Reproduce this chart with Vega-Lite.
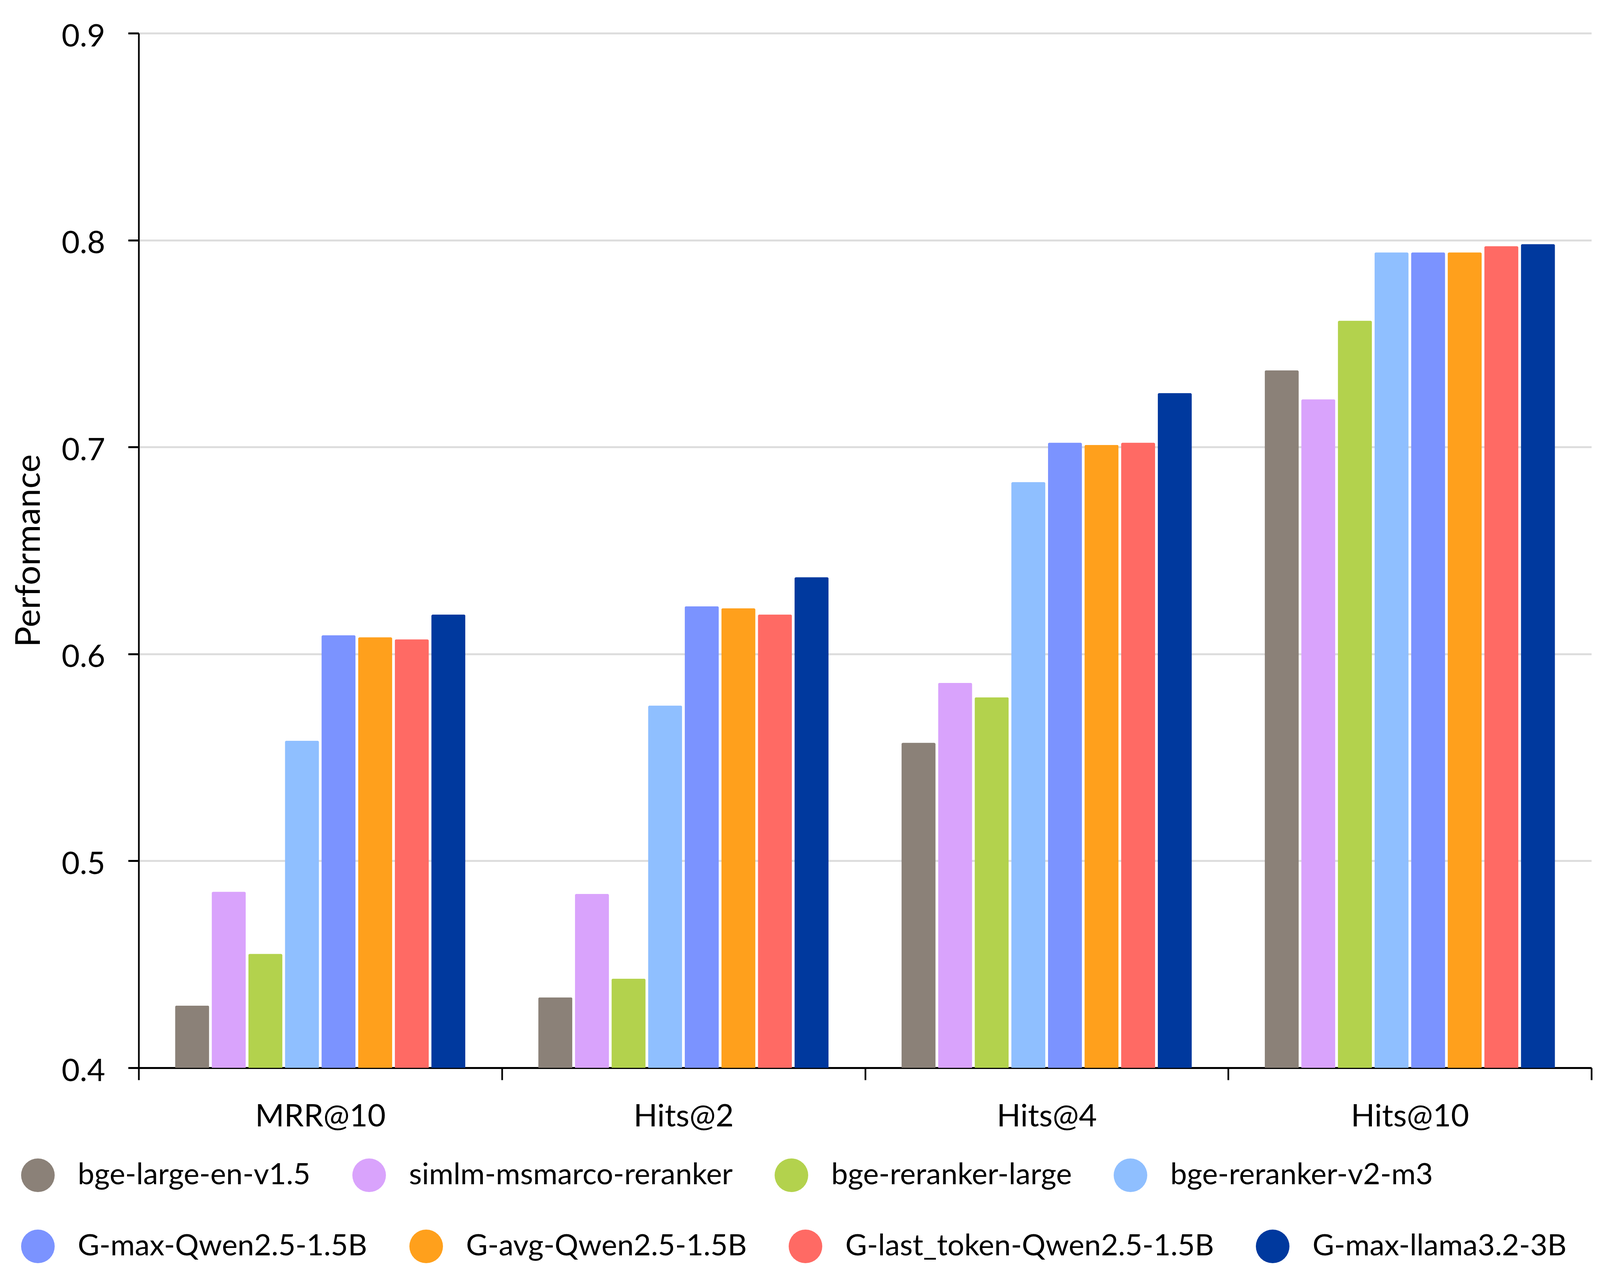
{
  "$schema": "https://vega.github.io/schema/vega-lite/v6.json",
  "autosize": {"type": "none"},
  "width": 3719,
  "height": 2648,
  "padding": {"left": 355, "top": 85, "right": 29, "bottom": 561},
  "background": "white",
  "config": {
    "font": "Lato",
    "view": {"stroke": null},
    "axis": {"labelColor": "black", "titleColor": "black", "labelFont": "Lato", "titleFont": "Lato"},
    "legend": {"labelFont": "Lato"}
  },
  "data": {
    "values": [
      {"metric": "MRR@10", "model": "bge-large-en-v1.5", "value": 0.430},
      {"metric": "MRR@10", "model": "simlm-msmarco-reranker", "value": 0.485},
      {"metric": "MRR@10", "model": "bge-reranker-large", "value": 0.455},
      {"metric": "MRR@10", "model": "bge-reranker-v2-m3", "value": 0.558},
      {"metric": "MRR@10", "model": "G-max-Qwen2.5-1.5B", "value": 0.609},
      {"metric": "MRR@10", "model": "G-avg-Qwen2.5-1.5B", "value": 0.608},
      {"metric": "MRR@10", "model": "G-last_token-Qwen2.5-1.5B", "value": 0.607},
      {"metric": "MRR@10", "model": "G-max-llama3.2-3B", "value": 0.619},
      {"metric": "Hits@2", "model": "bge-large-en-v1.5", "value": 0.434},
      {"metric": "Hits@2", "model": "simlm-msmarco-reranker", "value": 0.484},
      {"metric": "Hits@2", "model": "bge-reranker-large", "value": 0.443},
      {"metric": "Hits@2", "model": "bge-reranker-v2-m3", "value": 0.575},
      {"metric": "Hits@2", "model": "G-max-Qwen2.5-1.5B", "value": 0.623},
      {"metric": "Hits@2", "model": "G-avg-Qwen2.5-1.5B", "value": 0.622},
      {"metric": "Hits@2", "model": "G-last_token-Qwen2.5-1.5B", "value": 0.619},
      {"metric": "Hits@2", "model": "G-max-llama3.2-3B", "value": 0.637},
      {"metric": "Hits@4", "model": "bge-large-en-v1.5", "value": 0.557},
      {"metric": "Hits@4", "model": "simlm-msmarco-reranker", "value": 0.586},
      {"metric": "Hits@4", "model": "bge-reranker-large", "value": 0.579},
      {"metric": "Hits@4", "model": "bge-reranker-v2-m3", "value": 0.683},
      {"metric": "Hits@4", "model": "G-max-Qwen2.5-1.5B", "value": 0.702},
      {"metric": "Hits@4", "model": "G-avg-Qwen2.5-1.5B", "value": 0.701},
      {"metric": "Hits@4", "model": "G-last_token-Qwen2.5-1.5B", "value": 0.702},
      {"metric": "Hits@4", "model": "G-max-llama3.2-3B", "value": 0.726},
      {"metric": "Hits@10", "model": "bge-large-en-v1.5", "value": 0.737},
      {"metric": "Hits@10", "model": "simlm-msmarco-reranker", "value": 0.723},
      {"metric": "Hits@10", "model": "bge-reranker-large", "value": 0.761},
      {"metric": "Hits@10", "model": "bge-reranker-v2-m3", "value": 0.794},
      {"metric": "Hits@10", "model": "G-max-Qwen2.5-1.5B", "value": 0.794},
      {"metric": "Hits@10", "model": "G-avg-Qwen2.5-1.5B", "value": 0.794},
      {"metric": "Hits@10", "model": "G-last_token-Qwen2.5-1.5B", "value": 0.797},
      {"metric": "Hits@10", "model": "G-max-llama3.2-3B", "value": 0.798}
    ]
  },
  "encoding": {
    "x": {
      "field": "metric",
      "type": "nominal",
      "sort": ["MRR@10", "Hits@2", "Hits@4", "Hits@10"],
      "scale": {"paddingInner": 0, "paddingOuter": 0},
      "axis": {
        "title": null,
        "labelAngle": 0,
        "labelFontSize": 80,
        "labelPadding": 55,
        "labelLimit": 2000,
        "tickBand": "extent",
        "tickSize": 31,
        "tickWidth": 4.3,
        "tickColor": "black",
        "domainColor": "black",
        "domainWidth": 5,
        "grid": false
      }
    },
    "xOffset": {
      "field": "model",
      "type": "nominal",
      "sort": ["bge-large-en-v1.5", "simlm-msmarco-reranker", "bge-reranker-large", "bge-reranker-v2-m3", "G-max-Qwen2.5-1.5B", "G-avg-Qwen2.5-1.5B", "G-last_token-Qwen2.5-1.5B", "G-max-llama3.2-3B"],
      "scale": {"paddingInner": 0.078, "paddingOuter": 1.27}
    },
    "y": {
      "field": "value",
      "type": "quantitative",
      "scale": {"domain": [0.4, 0.9], "zero": false, "nice": false},
      "axis": {
        "title": "Performance",
        "titleFontSize": 88,
        "titleFontWeight": "normal",
        "titleX": -254,
        "titleY": 1324,
        "titleBaseline": "alphabetic",
        "titleAngle": 270,
        "titleAlign": "center",
        "values": [0.4, 0.5, 0.6, 0.7, 0.8, 0.9],
        "format": ".1f",
        "labelFontSize": 80,
        "labelPadding": 59,
        "labelOffset": 9,
        "tickSize": 27,
        "tickWidth": 5,
        "tickColor": "black",
        "domainColor": "black",
        "domainWidth": 4.3,
        "grid": true,
        "gridColor": "#dddddd",
        "gridWidth": 5
      }
    },
    "y2": {"datum": 0.4}
  },
  "layer": [
    {
      "mark": {"type": "bar", "cornerRadiusTopLeft": 3, "cornerRadiusTopRight": 3, "clip": true},
      "encoding": {
        "color": {
          "field": "model",
          "type": "nominal",
          "scale": {
            "domain": ["bge-large-en-v1.5", "simlm-msmarco-reranker", "bge-reranker-large", "bge-reranker-v2-m3", "G-max-Qwen2.5-1.5B", "G-avg-Qwen2.5-1.5B", "G-last_token-Qwen2.5-1.5B", "G-max-llama3.2-3B"],
            "range": ["#8b8178", "#d9a3fc", "#b3d24d", "#8fbfff", "#7b93ff", "#ffa01c", "#ff6a64", "#00399e"]
          },
          "legend": {
            "title": null,
            "values": ["bge-large-en-v1.5", "simlm-msmarco-reranker", "bge-reranker-large", "bge-reranker-v2-m3"],
            "orient": "none",
            "legendX": -301,
            "legendY": 2880,
            "direction": "horizontal",
            "columns": 4,
            "padding": 0,
            "symbolType": "circle",
            "symbolSize": 7396,
            "symbolStrokeWidth": 0,
            "symbolOpacity": 1,
            "labelFontSize": 76,
            "labelOffset": 59,
            "labelLimit": 3000,
            "labelColor": "black",
            "columnPadding": 107
          }
        }
      }
    },
    {
      "mark": {"type": "bar", "cornerRadiusTopLeft": 3, "cornerRadiusTopRight": 3, "clip": true},
      "encoding": {
        "color": {
          "field": "model",
          "type": "nominal",
          "scale": {
            "domain": ["bge-large-en-v1.5", "simlm-msmarco-reranker", "bge-reranker-large", "bge-reranker-v2-m3", "G-max-Qwen2.5-1.5B", "G-avg-Qwen2.5-1.5B", "G-last_token-Qwen2.5-1.5B", "G-max-llama3.2-3B"],
            "range": ["#8b8178", "#d9a3fc", "#b3d24d", "#8fbfff", "#7b93ff", "#ffa01c", "#ff6a64", "#00399e"]
          },
          "legend": {
            "title": null,
            "values": ["G-max-Qwen2.5-1.5B", "G-avg-Qwen2.5-1.5B", "G-last_token-Qwen2.5-1.5B", "G-max-llama3.2-3B"],
            "orient": "none",
            "legendX": -301,
            "legendY": 3062,
            "direction": "horizontal",
            "columns": 4,
            "padding": 0,
            "symbolType": "circle",
            "symbolSize": 7396,
            "symbolStrokeWidth": 0,
            "symbolOpacity": 1,
            "labelFontSize": 76,
            "labelOffset": 59,
            "labelLimit": 3000,
            "labelColor": "black",
            "columnPadding": 107
          }
        }
      }
    }
  ],
  "resolve": {"scale": {"color": "independent"}, "legend": {"color": "independent"}}
}
